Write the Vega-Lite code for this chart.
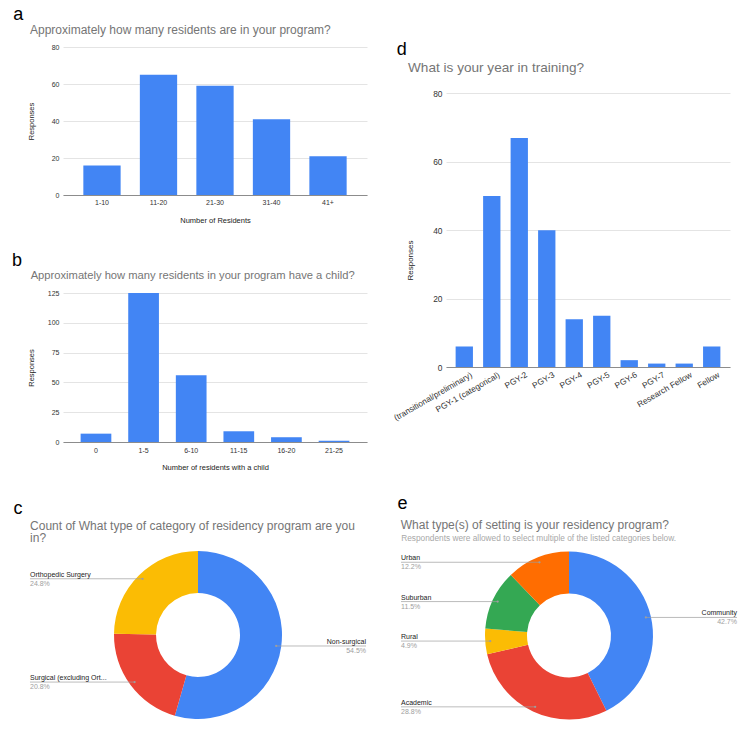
{
  "$schema": "https://vega.github.io/schema/vega-lite/v6.json",
  "padding": {"left": 12, "top": 5, "right": 5, "bottom": 0},
  "config": {
    "font": "Liberation Sans",
    "view": {"stroke": null},
    "title": {
      "anchor": "start",
      "frame": "group",
      "fontSize": 18,
      "fontWeight": "normal",
      "color": "#000000",
      "subtitleFont": "Liberation Sans",
      "subtitleFontSize": 12,
      "subtitleColor": "#757575"
    },
    "axis": {
      "labelFontSize": 7,
      "labelColor": "#333333",
      "titleFontSize": 7.5,
      "titleFontWeight": "normal",
      "titleColor": "#222222",
      "ticks": false,
      "gridColor": "#e4e4e4",
      "domainColor": "#8c8c8c"
    }
  },
  "resolve": {"scale": {"color": "independent"}},
  "spacing": 25,
  "hconcat": [
    {
      "vconcat": [
        {
          "width": 304,
          "height": 148,
          "title": {
            "text": "a",
            "subtitle": "\u200b\u00a0\u00a0\u00a0\u00a0\u00a0Approximately how many residents are in your program?",
            "dx": -49.7,
            "offset": 6.8,
            "subtitlePadding": 1.5
          },
          "data": {"values": [
            {"residents": "1-10", "responses": 16},
            {"residents": "11-20", "responses": 65},
            {"residents": "21-30", "responses": 59},
            {"residents": "31-40", "responses": 41},
            {"residents": "41+", "responses": 21}
          ]},
          "mark": {"type": "bar", "color": "#4285f4"},
          "encoding": {
            "x": {
              "field": "residents", "type": "nominal", "sort": null,
              "scale": {"paddingInner": 0.34, "paddingOuter": 0.36},
              "axis": {"title": "Number of Residents", "labelAngle": 0, "labelPadding": 3, "titlePadding": 11.5, "grid": false}
            },
            "y": {
              "field": "responses", "type": "quantitative",
              "scale": {"domain": [0, 80], "nice": false},
              "axis": {"title": "Responses", "values": [0, 20, 40, 60, 80], "domain": false, "labelPadding": 4, "titlePadding": 16}
            }
          }
        },
        {
          "width": 304,
          "height": 149,
          "title": {
            "text": "b",
            "subtitle": "\u200b\u00a0\u00a0\u00a0\u00a0\u00a0\u00a0Approximately how many residents in your program have a child?",
            "subtitleFontSize": 11.2,
            "dx": -51,
            "offset": 7.4,
            "subtitlePadding": 0
          },
          "data": {"values": [
            {"with_child": "0", "responses": 7},
            {"with_child": "1-5", "responses": 125},
            {"with_child": "6-10", "responses": 56},
            {"with_child": "11-15", "responses": 9},
            {"with_child": "16-20", "responses": 4},
            {"with_child": "21-25", "responses": 1}
          ]},
          "mark": {"type": "bar", "color": "#4285f4"},
          "encoding": {
            "x": {
              "field": "with_child", "type": "nominal", "sort": null,
              "scale": {"paddingInner": 0.355, "paddingOuter": 0.37},
              "axis": {"title": "Number of residents with a child", "labelAngle": 0, "labelPadding": 4.5, "titlePadding": 10, "grid": false}
            },
            "y": {
              "field": "responses", "type": "quantitative",
              "scale": {"domain": [0, 125], "nice": false},
              "axis": {"title": "Responses", "values": [0, 25, 50, 75, 100, 125], "domain": false, "labelPadding": 4, "titlePadding": 11.5}
            }
          }
        },
        {
          "width": 270,
          "height": 190,
          "title": {
            "text": "c",
            "subtitle": [
              "\u200b\u00a0\u00a0\u00a0\u00a0\u00a0Count of What type of category of residency program are you",
              "\u200b\u00a0\u00a0\u00a0\u00a0\u00a0in?"
            ],
            "dx": -49.6,
            "offset": -4.5,
            "subtitlePadding": 3.7,
            "subtitleLineHeight": 12.2
          },
          "data": {"values": [
            {"category": "Non-surgical", "share": 0.545},
            {"category": "Surgical (excluding Ort...", "share": 0.208},
            {"category": "Orthopedic Surgery", "share": 0.248}
          ]},
          "transform": [
            {"window": [{"op": "row_number", "as": "idx"}]},
            {"window": [{"op": "sum", "field": "share", "as": "cum"}], "sort": [{"field": "idx"}], "frame": [null, 0]},
            {"joinaggregate": [{"op": "sum", "field": "share", "as": "total"}]},
            {"calculate": "2 * PI * (datum.cum - datum.share / 2) / datum.total", "as": "mid"},
            {"calculate": "0.94 * sin(datum.mid)", "as": "px"},
            {"calculate": "0.94 * cos(datum.mid)", "as": "py"},
            {"calculate": "datum.px < 0 ? -2 : 2", "as": "edge"}
          ],
          "layer": [
            {
              "mark": {"type": "arc", "innerRadius": 42, "outerRadius": 84},
              "encoding": {
                "theta": {"field": "share", "type": "quantitative", "stack": true},
                "order": {"field": "idx", "type": "quantitative"},
                "color": {
                  "field": "category", "type": "nominal",
                  "scale": {"domain": ["Non-surgical", "Surgical (excluding Ort...", "Orthopedic Surgery"], "range": ["#4285f4", "#ea4335", "#fbbc04"]},
                  "legend": null
                },
                "x": {"datum": 0, "type": "quantitative", "scale": {"domain": [-1.6071, 1.6071], "nice": false, "zero": false}, "axis": null},
                "y": {"datum": 0, "type": "quantitative", "scale": {"domain": [-1.131, 1.131], "nice": false, "zero": false}, "axis": null}
              }
            },
            {
              "mark": {"type": "rule", "color": "#9e9e9e", "strokeWidth": 0.7},
              "encoding": {
                "x": {"field": "edge", "type": "quantitative", "axis": null},
                "x2": {"field": "px"},
                "y": {"field": "py", "type": "quantitative", "axis": null}
              }
            },
            {
              "mark": {"type": "circle", "size": 5, "color": "#9e9e9e", "opacity": 1},
              "encoding": {
                "x": {"field": "px", "type": "quantitative", "axis": null},
                "y": {"field": "py", "type": "quantitative", "axis": null}
              }
            },
            {
              "transform": [{"filter": "datum.px < 0"}],
              "mark": {"type": "text", "align": "left", "baseline": "bottom", "dy": -1, "fontSize": 7, "color": "#222222"},
              "encoding": {
                "x": {"field": "edge", "type": "quantitative", "axis": null},
                "y": {"field": "py", "type": "quantitative", "axis": null},
                "text": {"field": "category"}
              }
            },
            {
              "transform": [{"filter": "datum.px > 0"}],
              "mark": {"type": "text", "align": "right", "baseline": "bottom", "dy": -1, "fontSize": 7, "color": "#222222"},
              "encoding": {
                "x": {"field": "edge", "type": "quantitative", "axis": null},
                "y": {"field": "py", "type": "quantitative", "axis": null},
                "text": {"field": "category"}
              }
            },
            {
              "transform": [{"filter": "datum.px < 0"}],
              "mark": {"type": "text", "align": "left", "baseline": "top", "dy": 1, "fontSize": 7, "color": "#9e9e9e"},
              "encoding": {
                "x": {"field": "edge", "type": "quantitative", "axis": null},
                "y": {"field": "py", "type": "quantitative", "axis": null},
                "text": {"field": "share", "format": ".1%"}
              }
            },
            {
              "transform": [{"filter": "datum.px > 0"}],
              "mark": {"type": "text", "align": "right", "baseline": "top", "dy": 1, "fontSize": 7, "color": "#9e9e9e"},
              "encoding": {
                "x": {"field": "edge", "type": "quantitative", "axis": null},
                "y": {"field": "py", "type": "quantitative", "axis": null},
                "text": {"field": "share", "format": ".1%"}
              }
            }
          ]
        }
      ],
      "resolve": {"scale": {"color": "independent"}},
      "bounds": "flush",
      "spacing": 98
    },
    {
      "vconcat": [
        {
          "width": 284,
          "height": 320,
          "title": {
            "text": "d",
            "subtitle": "\u200b\u00a0\u00a0\u00a0What is your year in training?",
            "subtitleFontSize": 13.6,
            "dx": -49.3,
            "offset": -27.4,
            "subtitlePadding": 2
          },
          "data": {"values": [
            {"year": "(transitional/preliminary)", "responses": 6},
            {"year": "PGY-1 (categorical)", "responses": 50},
            {"year": "PGY-2", "responses": 67},
            {"year": "PGY-3", "responses": 40},
            {"year": "PGY-4", "responses": 14},
            {"year": "PGY-5", "responses": 15},
            {"year": "PGY-6", "responses": 2},
            {"year": "PGY-7", "responses": 1},
            {"year": "Research Fellow", "responses": 1},
            {"year": "Fellow", "responses": 6}
          ]},
          "mark": {"type": "bar", "color": "#4285f4"},
          "encoding": {
            "x": {
              "field": "year", "type": "nominal", "sort": null,
              "scale": {"paddingInner": 0.37, "paddingOuter": 0.35},
              "axis": {"title": null, "labelAngle": -30, "labelPadding": 3, "labelOffset": 5, "labelFontSize": 8.3, "grid": false}
            },
            "y": {
              "field": "responses", "type": "quantitative",
              "scale": {"domain": [0, 93.6], "nice": false},
              "axis": {"title": "Responses", "values": [0, 20, 40, 60, 80], "domain": false, "labelPadding": 4, "labelFontSize": 8.4, "titleFontSize": 8, "titlePadding": 17.7, "titleY": 213}
            }
          }
        },
        {
          "width": 246,
          "height": 270,
          "title": {
            "text": "e",
            "subtitle": "\u200b\u00a0What type(s) of setting is your residency program?",
            "dx": -48.6,
            "offset": -65.5,
            "subtitlePadding": 6.7
          },
          "data": {"values": [
            {"setting": "Community", "share": 0.427},
            {"setting": "Academic", "share": 0.288},
            {"setting": "Rural", "share": 0.049},
            {"setting": "Suburban", "share": 0.115},
            {"setting": "Urban", "share": 0.122}
          ]},
          "transform": [
            {"window": [{"op": "row_number", "as": "idx"}]},
            {"window": [{"op": "sum", "field": "share", "as": "cum"}], "sort": [{"field": "idx"}], "frame": [null, 0]},
            {"joinaggregate": [{"op": "sum", "field": "share", "as": "total"}]},
            {"calculate": "2 * PI * (datum.cum - datum.share / 2) / datum.total", "as": "mid"},
            {"calculate": "0.94 * sin(datum.mid)", "as": "px"},
            {"calculate": "0.94 * cos(datum.mid)", "as": "py"},
            {"calculate": "datum.px < 0 ? -2 : 2", "as": "edge"}
          ],
          "resolve": {"axis": {"x": "independent"}},
          "layer": [
            {
              "mark": {"type": "arc", "innerRadius": 42, "outerRadius": 84},
              "encoding": {
                "theta": {"field": "share", "type": "quantitative", "stack": true},
                "order": {"field": "idx", "type": "quantitative"},
                "color": {
                  "field": "setting", "type": "nominal",
                  "scale": {"domain": ["Community", "Academic", "Rural", "Suburban", "Urban"], "range": ["#4285f4", "#ea4335", "#fbbc04", "#34a853", "#ff6d01"]},
                  "legend": null
                },
                "x": {"datum": 0, "type": "quantitative", "scale": {"domain": [-1.4643, 1.4643], "nice": false, "zero": false}, "axis": null},
                "y": {"datum": 0, "type": "quantitative", "scale": {"domain": [-1.1845, 2.0298], "nice": false, "zero": false}, "axis": null}
              }
            },
            {
              "mark": {"type": "rule", "color": "#9e9e9e", "strokeWidth": 0.7},
              "encoding": {
                "x": {
                  "field": "edge", "type": "quantitative",
                  "axis": {
                    "orient": "top",
                    "title": "Respondents were allowed to select multiple of the listed categories below.",
                    "labels": false, "ticks": false, "domain": false, "grid": false,
                    "titleFontSize": 8.3, "titleColor": "#a8a8a8", "titleFontWeight": "normal",
                    "titleX": -45.3, "titleY": 75.5, "titleAlign": "left", "titleBaseline": "alphabetic", "titleAngle": 0
                  }
                },
                "x2": {"field": "px"},
                "y": {"field": "py", "type": "quantitative", "axis": null}
              }
            },
            {
              "mark": {"type": "circle", "size": 5, "color": "#9e9e9e", "opacity": 1},
              "encoding": {
                "x": {"field": "px", "type": "quantitative", "axis": null},
                "y": {"field": "py", "type": "quantitative", "axis": null}
              }
            },
            {
              "transform": [{"filter": "datum.px < 0"}],
              "mark": {"type": "text", "align": "left", "baseline": "bottom", "dy": -1, "fontSize": 7, "color": "#222222"},
              "encoding": {
                "x": {"field": "edge", "type": "quantitative", "axis": null},
                "y": {"field": "py", "type": "quantitative", "axis": null},
                "text": {"field": "setting"}
              }
            },
            {
              "transform": [{"filter": "datum.px > 0"}],
              "mark": {"type": "text", "align": "right", "baseline": "bottom", "dy": -1, "fontSize": 7, "color": "#222222"},
              "encoding": {
                "x": {"field": "edge", "type": "quantitative", "axis": null},
                "y": {"field": "py", "type": "quantitative", "axis": null},
                "text": {"field": "setting"}
              }
            },
            {
              "transform": [{"filter": "datum.px < 0"}],
              "mark": {"type": "text", "align": "left", "baseline": "top", "dy": 1, "fontSize": 7, "color": "#9e9e9e"},
              "encoding": {
                "x": {"field": "edge", "type": "quantitative", "axis": null},
                "y": {"field": "py", "type": "quantitative", "axis": null},
                "text": {"field": "share", "format": ".1%"}
              }
            },
            {
              "transform": [{"filter": "datum.px > 0"}],
              "mark": {"type": "text", "align": "right", "baseline": "top", "dy": 1, "fontSize": 7, "color": "#9e9e9e"},
              "encoding": {
                "x": {"field": "edge", "type": "quantitative", "axis": null},
                "y": {"field": "py", "type": "quantitative", "axis": null},
                "text": {"field": "share", "format": ".1%"}
              }
            }
          ]
        }
      ],
      "resolve": {"scale": {"color": "independent"}},
      "bounds": "flush",
      "spacing": 98
    }
  ]
}
